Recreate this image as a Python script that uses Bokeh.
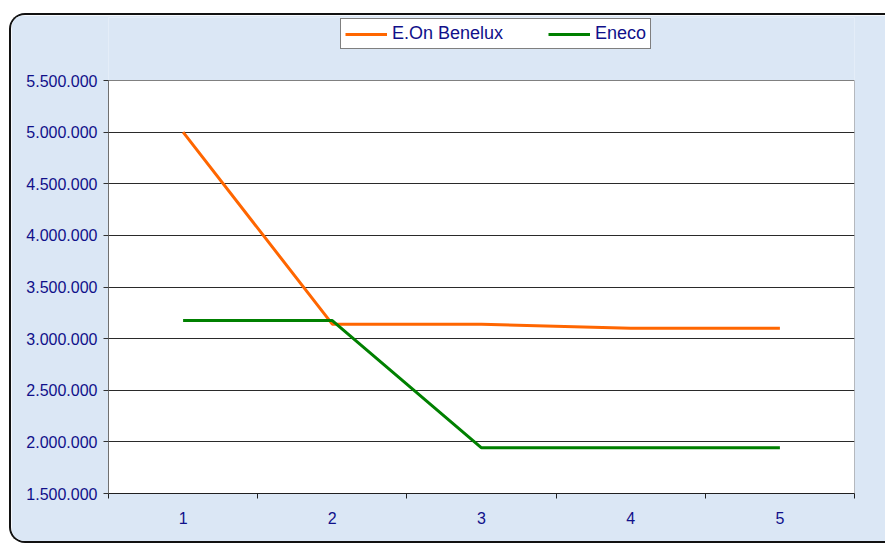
from bokeh.plotting import figure
from bokeh.models import Range1d, FixedTicker, Legend, LegendItem
from bokeh.embed import file_html
from bokeh.resources import INLINE

# ---- data ----
periods = [1, 2, 3, 4, 5]
eon_benelux = [5000000, 3140000, 3140000, 3100000, 3100000]
eneco = [3175000, 3175000, 1942000, 1942000, 1942000]
y_ticks = [1500000, 2000000, 2500000, 3000000, 3500000, 4000000, 4500000, 5000000, 5500000]
y_tick_labels = ["1.500.000", "2.000.000", "2.500.000", "3.000.000", "3.500.000",
                 "4.000.000", "4.500.000", "5.000.000", "5.500.000"]
x_boundaries = [0.5, 1.5, 2.5, 3.5, 4.5, 5.5]
series_names = ["E.On Benelux", "Eneco"]
y_min, y_max = 1500000, 5500000
x_min, x_max = 0.5, 5.5

BG = "#dbe7f5"
NAVY = "#10108a"
FONT = "Liberation Sans"

# geometry (page pixels): chart box at (9, 13) with a 2px border -> canvas at (11, 15)
# plot area: left 108, right 854, top 80, bottom 493; frame extended upward to y=17
plot_h = 493 - 80
extra_top = 80 - 17
y_frame_top = y_max + (y_max - y_min) * extra_top / plot_h

p = figure(width=876, height=530, output_backend="svg", toolbar_location=None,
           x_range=Range1d(x_min, x_max), y_range=Range1d(y_min, y_frame_top),
           min_border_left=97, min_border_right=33, min_border_top=2, min_border_bottom=52)
p.styles = {"margin-top": "13px", "margin-left": "9px",
            "border-style": "solid", "border-color": "#111111",
            "border-width": "2px 0px 2px 2px",
            "border-radius": "16px 0px 0px 16px", "overflow": "hidden"}

p.border_fill_color = BG
p.background_fill_color = BG
p.outline_line_color = None

# white plot area
p.quad(left=[x_min], right=[x_max], bottom=[y_min], top=[y_max],
       fill_color="white", line_color="#808080", line_width=1, level="underlay")

# grid
p.xgrid.grid_line_color = None
p.ygrid.grid_line_color = "#2a2a2a"
p.ygrid.grid_line_width = 1
p.ygrid.ticker = FixedTicker(ticks=y_ticks[1:-1])

# y axis
p.yaxis.ticker = FixedTicker(ticks=y_ticks)
p.yaxis.bounds = (y_min, y_max)
p.yaxis.major_label_overrides = {t: l for t, l in zip(y_ticks, y_tick_labels)}
p.yaxis.major_tick_in = 0
p.yaxis.major_tick_out = 5
p.yaxis.minor_tick_line_color = None
p.yaxis.axis_line_color = "#707070"
p.yaxis.major_tick_line_color = "#303030"
p.yaxis.major_label_text_color = NAVY
p.yaxis.major_label_text_font = FONT
p.yaxis.major_label_text_font_size = "16px"
p.yaxis.major_label_standoff = 6

# x axis
p.xaxis.ticker = FixedTicker(ticks=periods, minor_ticks=x_boundaries)
p.xaxis.major_tick_in = 0
p.xaxis.major_tick_out = 0
p.xaxis.minor_tick_in = 0
p.xaxis.minor_tick_out = 5
p.xaxis.minor_tick_line_color = "#202020"
p.xaxis.axis_line_color = "#202020"
p.xaxis.major_label_text_color = NAVY
p.xaxis.major_label_text_font = FONT
p.xaxis.major_label_text_font_size = "16px"
p.xaxis.major_label_standoff = 13

r1 = p.line(periods, eon_benelux, line_color="#ff6600", line_width=3)
r2 = p.line(periods, eneco, line_color="#008000", line_width=3)

legend = Legend(items=[LegendItem(label=series_names[0], renderers=[r1]),
                       LegendItem(label=series_names[1], renderers=[r2])],
                orientation="horizontal", location=(232, 444))
legend.border_line_color = "black"
legend.border_line_width = 1
legend.background_fill_color = "white"
legend.background_fill_alpha = 1
legend.label_text_font = FONT
legend.label_text_font_size = "18px"
legend.label_text_color = NAVY
legend.glyph_width = 42
legend.glyph_height = 12
legend.label_height = 12
legend.label_standoff = 5
legend.spacing = 45
legend.padding = 4
legend.margin = 0
p.add_layout(legend, "center")

open("out.html", "w").write(file_html(p, INLINE))
